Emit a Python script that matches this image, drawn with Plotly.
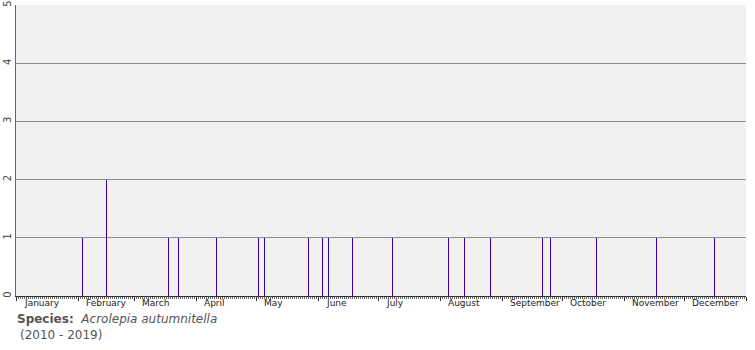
import plotly.graph_objects as go

# Day-of-year (0-based) of each record, and number of records
days = [33, 45, 76, 81, 100, 121, 124, 146, 153, 156, 168, 188, 216, 224, 237, 263, 267, 290, 320, 349]
counts = [1, 2, 1, 1, 1, 1, 1, 1, 1, 1, 1, 1, 1, 1, 1, 1, 1, 1, 1, 1]

months = ["January", "February", "March", "April", "May", "June", "July",
          "August", "September", "October", "November", "December"]
month_lengths = [31, 28, 31, 30, 31, 30, 31, 31, 30, 31, 30, 31]
y_ticks = [0, 1, 2, 3, 4, 5]

month_starts = []
acc = 0
for m in month_lengths:
    month_starts.append(acc)
    acc += m

fig = go.Figure()
fig.add_trace(go.Bar(x=days, y=counts, width=0.5, offset=0,
                     marker=dict(color="#3300aa", line=dict(width=0)),
                     hoverinfo="x+y"))

annotations = []
for name, start in zip(months, month_starts):
    annotations.append(dict(x=start + 3, y=0, xref="x", yref="y", text=name,
                            showarrow=False, xanchor="left", yanchor="top", yshift=0,
                            font=dict(family="DejaVu Sans", size=9, color="#222")))

annotations.append(dict(x=0, y=0, xref="paper", yref="paper", xanchor="left", yanchor="top",
                        xshift=-1, yshift=-14, showarrow=False, align="left",
                        text="<b>Species:</b>  <i>Acrolepia autumnitella</i>",
                        font=dict(family="DejaVu Sans", size=12, color="#555")))
annotations.append(dict(x=0, y=0, xref="paper", yref="paper", xanchor="left", yanchor="top",
                        xshift=2, yshift=-30, showarrow=False, align="left",
                        text="(2010 - 2019)",
                        font=dict(family="DejaVu Sans", size=12, color="#555")))

fig.update_layout(
    width=755, height=350,
    margin=dict(l=16, r=9, t=5, b=54, autoexpand=False),
    paper_bgcolor="white", plot_bgcolor="#f0f0f0",
    showlegend=False, bargap=0,
    annotations=annotations,
    xaxis=dict(range=[0, 365], tickvals=month_starts + [365], showticklabels=False,
               ticks="outside", ticklen=4, tickcolor="#333", tickwidth=1, automargin=False,
               minor=dict(dtick=1, tick0=0, ticks="outside", ticklen=2, tickcolor="#666", tickwidth=1),
               showgrid=False, showline=True, linecolor="#333", linewidth=1, zeroline=False),
    yaxis=dict(range=[0, 5], tickvals=y_ticks, ticktext=[str(v) for v in y_ticks],
               tickangle=-90, ticks="", showgrid=True, gridcolor="#8c8c8c", gridwidth=1,
               showline=True, linecolor="#666", linewidth=1, zeroline=False, automargin=False,
               tickfont=dict(family="DejaVu Sans", size=10, color="#444")),
)

fig.write_html("out.html")
